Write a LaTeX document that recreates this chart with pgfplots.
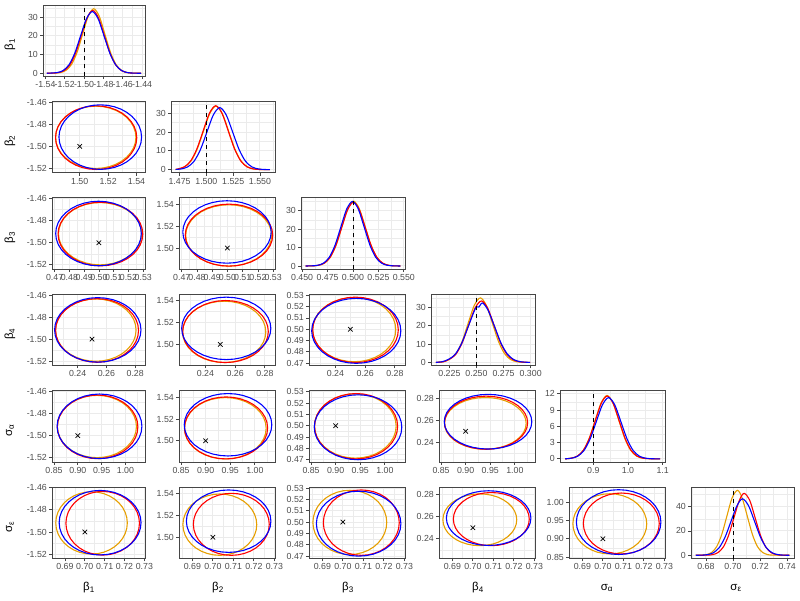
\documentclass[border=0pt]{standalone}
\usepackage{fontspec}
\setmainfont{Liberation Sans}
\usepackage{pgfplots}
\usepackage{pgfplotstable}
\pgfplotsset{compat=1.18}
\definecolor{colO}{RGB}{230,159,0}
\definecolor{colR}{RGB}{255,0,0}
\definecolor{colB}{RGB}{0,0,255}
\definecolor{g20}{RGB}{70,70,70}
\definecolor{g30}{RGB}{77,77,77}
\definecolor{g92}{RGB}{235,235,235}

\pgfplotstableread{
c s
1 0
0.9848 0.1736
0.9397 0.3420
0.8660 0.5
0.7660 0.6428
0.6428 0.7660
0.5 0.8660
0.3420 0.9397
0.1736 0.9848
0 1
-0.1736 0.9848
-0.3420 0.9397
-0.5 0.8660
-0.6428 0.7660
-0.7660 0.6428
-0.8660 0.5
-0.9397 0.3420
-0.9848 0.1736
-1 0
-0.9848 -0.1736
-0.9397 -0.3420
-0.8660 -0.5
-0.7660 -0.6428
-0.6428 -0.7660
-0.5 -0.8660
-0.3420 -0.9397
-0.1736 -0.9848
0 -1
0.1736 -0.9848
0.3420 -0.9397
0.5 -0.8660
0.6428 -0.7660
0.7660 -0.6428
0.8660 -0.5
0.9397 -0.3420
0.9848 -0.1736
1 0
}\unitcircle

% ellipse centres and half-widths (per variable, colour and role)
\newcommand{\setp}[3]{\expandafter\def\csname #1c\endcsname{#2}\expandafter\def\csname #1r\endcsname{#3}}
\setp{yaO}{-1.4918}{0.0282}\setp{yaR}{-1.4921}{0.0288}\setp{yaB}{-1.4916}{0.0292}
\setp{xbO}{1.5113}{0.0283}\setp{xbR}{1.5116}{0.0286}\setp{xbB}{1.5145}{0.0291}
\setp{ybO}{1.5115}{0.0281}\setp{ybR}{1.5118}{0.0284}\setp{ybB}{1.5147}{0.0286}
\setp{xcO}{0.5008}{0.0282}\setp{xcR}{0.5010}{0.0287}\setp{xcB}{0.4997}{0.0290}
\setp{ycO}{0.4997}{0.0284}\setp{ycR}{0.4995}{0.0289}\setp{ycB}{0.4986}{0.0287}
\setp{xdO}{0.2526}{0.0280}\setp{xdR}{0.2535}{0.0288}\setp{xdB}{0.2540}{0.0300}
\setp{ydO}{0.2572}{0.0234}\setp{ydR}{0.2578}{0.0240}\setp{ydB}{0.2587}{0.0247}
\setp{xeO}{0.9400}{0.0830}\setp{xeR}{0.9415}{0.0845}\setp{xeB}{0.9455}{0.0890}
\setp{yeO}{0.9410}{0.0825}\setp{yeR}{0.9420}{0.0835}\setp{yeB}{0.9458}{0.0888}
\setp{xfO}{0.7034}{0.0180}\setp{xfR}{0.7090}{0.0185}\setp{xfB}{0.7077}{0.0206}

\newcommand{\ellip}[3]{\addplot[col#1, line width=1.1pt, line join=round] table[x expr={\csname #2#1c\endcsname+\csname #2#1r\endcsname*\thisrow{c}}, y expr={\csname #3#1c\endcsname+\csname #3#1r\endcsname*\thisrow{s}}] {\unitcircle};}
\newcommand{\three}[2]{\ellip{O}{#1}{#2}\ellip{R}{#1}{#2}\ellip{B}{#1}{#2}}
\newcommand{\truept}[2]{\addplot[black, only marks, mark=x, mark size=3.2pt, mark options={line width=0.7pt}] coordinates {(#1,#2)};}
\newcommand{\truline}[3]{\addplot[black, line width=0.9pt, dash pattern=on 4pt off 4pt] coordinates {(#1,#2) (#1,#3)};}

\pgfplotsset{
  pan/.style={scale only axis, anchor=south west, height=71.5pt,
    axis line style={draw=g20, line width=0.8pt},
    tick pos=left, tick align=outside, major tick length=2.75pt, minor tick length=0pt,
    tick style={g20, line width=0.8pt}, minor tick style={draw=none},
    grid=both, major grid style={g92, line width=1pt}, minor grid style={g92, line width=0.5pt},
    tick label style={font=\fontsize{8.8}{10}\selectfont, text=g30},
    xticklabel style={inner sep=0pt, yshift=-2.2pt},
    yticklabel style={inner sep=0pt, xshift=-2.2pt},
  },
  vxb/.style={xmin=1.4805, xmax=1.546, xtick={1.50,1.52,1.54}, xticklabels={1.50,1.52,1.54}, minor xtick={1.49,1.51,1.53}},
  vxc/.style={xmin=0.4682, xmax=0.5312, xtick={0.47,0.48,0.49,0.50,0.51,0.52,0.53}, xticklabels={0.47,0.48,0.49,0.50,0.51,0.52,0.53}, minor xtick={0.475,0.485,0.495,0.505,0.515,0.525}},
  vxd/.style={xmin=0.2222, xmax=0.2868, xtick={0.24,0.26,0.28}, xticklabels={0.24,0.26,0.28}, minor xtick={0.23,0.25,0.27}},
  vxe/.style={xmin=0.8458, xmax=1.041, xtick={0.85,0.90,0.95,1.00}, xticklabels={0.85,0.90,0.95,1.00}, minor xtick={0.875,0.925,0.975,1.025}},
  vxf/.style={xmin=0.6835, xmax=0.7303, xtick={0.69,0.70,0.71,0.72,0.73}, xticklabels={0.69,0.70,0.71,0.72,0.73}, minor xtick={0.685,0.695,0.705,0.715,0.725}},
  vya/.style={ymin=-1.524, ymax=-1.4593, ytick={-1.52,-1.50,-1.48,-1.46}, yticklabels={-1.52,-1.50,-1.48,-1.46}, minor ytick={-1.51,-1.49,-1.47}},
  vyb/.style={ymin=1.4805, ymax=1.546, ytick={1.50,1.52,1.54}, yticklabels={1.50,1.52,1.54}, minor ytick={1.49,1.51,1.53}},
  vyc/.style={ymin=0.4678, ymax=0.531, ytick={0.47,0.48,0.49,0.50,0.51,0.52,0.53}, yticklabels={0.47,0.48,0.49,0.50,0.51,0.52,0.53}, minor ytick={0.475,0.485,0.495,0.505,0.515,0.525}},
  vyd/.style={ymin=0.2222, ymax=0.2868, ytick={0.24,0.26,0.28}, yticklabels={0.24,0.26,0.28}, minor ytick={0.23,0.25,0.27}},
  vye/.style={ymin=0.846, ymax=1.042, ytick={0.85,0.90,0.95,1.00}, yticklabels={0.85,0.90,0.95,1.00}, minor ytick={0.875,0.925,0.975,1.025}},
  dy30/.style={ytick={0,10,20,30}, yticklabels={0,10,20,30}, minor ytick={5,15,25,35}},
  dO/.style={colO, line width=1.1pt, smooth},
  dR/.style={colR, line width=1.1pt, smooth},
  dB/.style={colB, line width=1.1pt, smooth},
}
\newcommand{\ttl}{\fontsize{11.5}{13}\selectfont}

\begin{document}
\begin{tikzpicture}
% ---------------- row 1 ----------------
\begin{axis}[pan, at={(43pt,523.5pt)}, width=102pt,
  xmin=-1.5425, xmax=-1.437, xtick={-1.54,-1.52,-1.50,-1.48,-1.46,-1.44}, xticklabels={-1.54,-1.52,-1.50,-1.48,-1.46,-1.44}, minor xtick={-1.53,-1.51,-1.49,-1.47,-1.45},
  ymin=-1.74, ymax=36.5, dy30]
\addplot[dO] coordinates {(-1.5386,0) (-1.53025,0.08) (-1.5245,0.38) (-1.51875,1.51) (-1.513,4.67) (-1.50725,11.20) (-1.5015,20.92) (-1.49575,30.45) (-1.49,34.5) (-1.48425,30.45) (-1.4785,20.92) (-1.47275,11.20) (-1.467,4.67) (-1.46125,1.51) (-1.4555,0.38) (-1.44975,0.08) (-1.441,0)};
\addplot[dR] coordinates {(-1.5386,0) (-1.5323,0.07) (-1.5264,0.37) (-1.5205,1.48) (-1.5146,4.55) (-1.5087,10.91) (-1.5028,20.38) (-1.4969,29.65) (-1.491,33.6) (-1.4851,29.65) (-1.4792,20.38) (-1.4733,10.91) (-1.4674,4.55) (-1.4615,1.48) (-1.4556,0.37) (-1.4497,0.07) (-1.441,0)};
\addplot[dB] coordinates {(-1.5386,0) (-1.5278,0.37) (-1.52175,1.45) (-1.5157,4.46) (-1.50965,10.72) (-1.5036,20.01) (-1.49755,29.12) (-1.4915,33.0) (-1.48545,29.12) (-1.4794,20.01) (-1.47335,10.72) (-1.4673,4.46) (-1.46125,1.45) (-1.4552,0.37) (-1.44915,0.07) (-1.441,0)};
\truline{-1.5}{-1.74}{36.5}
\end{axis}
% ---------------- row 2 ----------------
\begin{axis}[pan, at={(52pt,427.1pt)}, width=93pt, vxb, vya]
\three{xb}{ya}\truept{1.5}{-1.5}
\end{axis}
\begin{axis}[pan, at={(171pt,427.1pt)}, width=104pt,
  xmin=1.467, xmax=1.564, xtick={1.475,1.5,1.525,1.55}, xticklabels={1.475,1.500,1.525,1.550}, minor xtick={1.4875,1.5125,1.5375,1.5625},
  ymin=-1.73, ymax=36.3, dy30]
\addplot[dO] coordinates {(1.4714,0.1) (1.4739,0.38) (1.47975,1.48) (1.4856,4.57) (1.49145,10.97) (1.4973,20.5) (1.50315,29.83) (1.509,33.8) (1.51485,29.83) (1.5207,20.5) (1.52655,10.97) (1.5324,4.57) (1.53825,1.48) (1.5441,0.38) (1.54995,0.07) (1.5593,0)};
\addplot[dR] coordinates {(1.4714,0.1) (1.4736,0.38) (1.47945,1.49) (1.4853,4.60) (1.49115,11.04) (1.497,20.62) (1.50285,30.0) (1.5087,34.0) (1.51455,30.0) (1.5204,20.62) (1.52625,11.04) (1.5321,4.60) (1.53795,1.49) (1.5438,0.38) (1.54965,0.07) (1.5593,0)};
\addplot[dB] coordinates {(1.4714,0.1) (1.4765,0.37) (1.4825,1.45) (1.4885,4.46) (1.4945,10.72) (1.5005,20.01) (1.5065,29.12) (1.5125,33.0) (1.5185,29.12) (1.5245,20.01) (1.5305,10.72) (1.5365,4.46) (1.5425,1.45) (1.5485,0.37) (1.5545,0.07) (1.5593,0)};
\truline{1.5}{-1.73}{36.3}
\end{axis}
% ---------------- row 3 ----------------
\begin{axis}[pan, at={(52pt,330.7pt)}, width=93pt, vxc, vya]
\three{xc}{ya}\truept{0.5}{-1.5}
\end{axis}
\begin{axis}[pan, at={(179pt,330.7pt)}, width=96pt, vxc, vyb]
\three{xc}{yb}\truept{0.5}{1.5}
\end{axis}
\begin{axis}[pan, at={(301pt,330.7pt)}, width=104pt,
  xmin=0.4489, xmax=0.5511, xtick={0.45,0.475,0.5,0.525,0.55}, xticklabels={0.450,0.475,0.500,0.525,0.550}, minor xtick={0.4625,0.4875,0.5125,0.5375},
  ymin=-1.8, ymax=37, dy30]
\addplot[dO] coordinates {(0.4535,0) (0.4606,0.08) (0.4663,0.39) (0.472,1.55) (0.4777,4.76) (0.4834,11.43) (0.4891,21.35) (0.4948,31.06) (0.5005,35.2) (0.5062,31.06) (0.5119,21.35) (0.5176,11.43) (0.5233,4.76) (0.529,1.55) (0.5347,0.39) (0.5404,0.08) (0.5465,0)};
\addplot[dR] coordinates {(0.4535,0) (0.46025,0.08) (0.466,0.38) (0.47175,1.52) (0.4775,4.68) (0.48325,11.23) (0.489,20.98) (0.49475,30.53) (0.5005,34.6) (0.50625,30.53) (0.512,20.98) (0.51775,11.23) (0.5235,4.68) (0.52925,1.52) (0.535,0.38) (0.54075,0.08) (0.5465,0)};
\addplot[dB] coordinates {(0.4535,0) (0.4596,0.08) (0.4653,0.39) (0.471,1.54) (0.4767,4.74) (0.4824,11.36) (0.4881,21.23) (0.4938,30.89) (0.4995,35.0) (0.5052,30.89) (0.5109,21.23) (0.5166,11.36) (0.5223,4.74) (0.528,1.54) (0.5337,0.39) (0.5394,0.08) (0.5465,0)};
\truline{0.5}{-1.8}{37}
\end{axis}
% ---------------- row 4 ----------------
\begin{axis}[pan, at={(52pt,234.3pt)}, width=93pt, vxd, vya]
\three{xd}{ya}\truept{0.25}{-1.5}
\end{axis}
\begin{axis}[pan, at={(179pt,234.3pt)}, width=96pt, vxd, vyb]
\three{xd}{yb}\truept{0.25}{1.5}
\end{axis}
\begin{axis}[pan, at={(309pt,234.3pt)}, width=96pt, vxd, vyc]
\three{xd}{yc}\truept{0.25}{0.5}
\end{axis}
\begin{axis}[pan, at={(431pt,234.3pt)}, width=104pt,
  xmin=0.208, xmax=0.304, xtick={0.225,0.25,0.275,0.3}, xticklabels={0.225,0.250,0.275,0.300}, minor xtick={0.2125,0.2375,0.2625,0.2875},
  ymin=-1.8, ymax=37.3, dy30]
\addplot[dO] coordinates {(0.2125,0) (0.2199,0.39) (0.2255,1.9) (0.2311,4.78) (0.2367,11.46) (0.2423,21.41) (0.2479,31.15) (0.2535,35.3) (0.2591,31.15) (0.2647,21.41) (0.2703,11.46) (0.2759,4.78) (0.2815,1.55) (0.2871,0.39) (0.2927,0.08) (0.2995,0)};
\addplot[dR] coordinates {(0.2125,0) (0.2194,0.37) (0.22525,1.8) (0.2311,4.55) (0.23695,10.91) (0.2428,20.38) (0.24865,29.65) (0.2545,33.6) (0.26035,29.65) (0.2662,20.38) (0.27205,10.91) (0.2779,4.55) (0.28375,1.48) (0.2896,0.37) (0.29545,0.07) (0.2995,0)};
\addplot[dB] coordinates {(0.2125,0.05) (0.2182,0.36) (0.22425,1.7) (0.2303,4.40) (0.23635,10.55) (0.2424,19.71) (0.24845,28.8) (0.2505,30.4) (0.2522,30.3) (0.2555,32.5) (0.26055,28.68) (0.2666,19.71) (0.27265,10.55) (0.2787,4.40) (0.28475,1.43) (0.2908,0.36) (0.29685,0.07) (0.2995,0)};
\truline{0.25}{-1.8}{37.3}
\end{axis}
% ---------------- row 5 ----------------
\begin{axis}[pan, at={(52pt,137.9pt)}, width=93pt, vxe, vya]
\three{xe}{ya}\truept{0.9}{-1.5}
\end{axis}
\begin{axis}[pan, at={(179pt,137.9pt)}, width=96pt, vxe, vyb]
\three{xe}{yb}\truept{0.9}{1.5}
\end{axis}
\begin{axis}[pan, at={(309pt,137.9pt)}, width=96pt, vxe, vyc]
\three{xe}{yc}\truept{0.9}{0.5}
\end{axis}
\begin{axis}[pan, at={(439pt,137.9pt)}, width=96pt, vxe, vyd]
\three{xe}{yd}\truept{0.9}{0.25}
\end{axis}
\begin{axis}[pan, at={(560pt,137.9pt)}, width=105pt,
  xmin=0.804, xmax=1.1066, xtick={0.9,1.0,1.1}, xticklabels={0.9,1.0,1.1}, minor xtick={0.85,0.95,1.05},
  ymin=-0.6, ymax=12.6, ytick={0,3,6,9,12}, yticklabels={0,3,6,9,12}, minor ytick={1.5,4.5,7.5,10.5}]
\addplot[dO] coordinates {(0.8185,0) (0.8372,0.13) (0.85425,0.51) (0.8713,1.58) (0.88835,3.80) (0.9054,7.10) (0.92245,10.33) (0.9395,11.7) (0.95655,10.33) (0.9736,7.10) (0.99065,3.80) (1.0077,1.58) (1.02475,0.51) (1.0418,0.13) (1.05885,0.03) (1.0925,0)};
\addplot[dR] coordinates {(0.8185,0) (0.8368,0.13) (0.854,0.51) (0.8712,1.57) (0.8884,3.77) (0.9056,7.04) (0.9228,10.24) (0.940,11.6) (0.9572,10.24) (0.9744,7.04) (0.9916,3.77) (1.0088,1.57) (1.026,0.51) (1.0432,0.13) (1.0604,0.03) (1.0925,0)};
\addplot[dB] coordinates {(0.8185,0) (0.8375,0.13) (0.85525,0.50) (0.873,1.53) (0.89075,3.67) (0.9085,6.85) (0.92625,9.97) (0.944,11.3) (0.96175,9.97) (0.9795,6.85) (0.99725,3.67) (1.015,1.53) (1.03275,0.50) (1.0505,0.13) (1.06825,0.02) (1.0925,0)};
\truline{0.9}{-0.6}{12.6}
\end{axis}
% ---------------- row 6 ----------------
\begin{axis}[pan, at={(52pt,41.5pt)}, width=93pt, vxf, vya]
\three{xf}{ya}\truept{0.7}{-1.5}
\end{axis}
\begin{axis}[pan, at={(179pt,41.5pt)}, width=96pt, vxf, vyb]
\three{xf}{yb}\truept{0.7}{1.5}
\end{axis}
\begin{axis}[pan, at={(309pt,41.5pt)}, width=96pt, vxf, vyc]
\three{xf}{yc}\truept{0.7}{0.5}
\end{axis}
\begin{axis}[pan, at={(439pt,41.5pt)}, width=96pt, vxf, vyd]
\three{xf}{yd}\truept{0.7}{0.25}
\end{axis}
\begin{axis}[pan, at={(569pt,41.5pt)}, width=96pt, vxf, vye]
\three{xf}{ye}\truept{0.7}{0.9}
\end{axis}
\begin{axis}[pan, at={(691pt,41.5pt)}, width=103pt,
  xmin=0.669, xmax=0.745, xtick={0.68,0.70,0.72,0.74}, xticklabels={0.68,0.70,0.72,0.74}, minor xtick={0.67,0.69,0.71,0.73},
  ymin=-2.67, ymax=56.2, ytick={0,20,40}, yticklabels={0,20,40}, minor ytick={10,30,50}]
\addplot[dO] coordinates {(0.6725,0) (0.67675,0.12) (0.6805,0.59) (0.68425,2.34) (0.688,7.21) (0.69175,17.31) (0.6955,32.33) (0.69925,47.04) (0.7033,53.5) (0.70675,47.04) (0.7105,32.33) (0.71425,17.31) (0.718,7.21) (0.72175,2.34) (0.7255,0.59) (0.72925,0.12) (0.7415,0)};
\addplot[dR] coordinates {(0.6725,0) (0.6812,0.11) (0.6851,0.57) (0.689,2.24) (0.6929,6.90) (0.6968,16.56) (0.7007,30.93) (0.7046,45.01) (0.7082,51.0) (0.7124,45.01) (0.7163,30.93) (0.7202,16.56) (0.7241,6.90) (0.728,2.24) (0.7319,0.57) (0.7358,0.11) (0.7415,0)};
\addplot[dB] coordinates {(0.6725,0) (0.67675,0.10) (0.6811,0.51) (0.68545,2.02) (0.6898,6.22) (0.69415,14.94) (0.6985,27.9) (0.70285,40.6) (0.7070,46.5) (0.71155,40.6) (0.7159,27.9) (0.72025,14.94) (0.7246,6.22) (0.72895,2.02) (0.7333,0.51) (0.73765,0.10) (0.7415,0)};
\truline{0.7}{-2.67}{56.2}
\end{axis}
% ---------------- titles ----------------
\node[rotate=90, font=\ttl] at (10pt,555.5pt) {β\textsubscript{1}};
\node[rotate=90, font=\ttl] at (10pt,459pt) {β\textsubscript{2}};
\node[rotate=90, font=\ttl] at (10pt,362.5pt) {β\textsubscript{3}};
\node[rotate=90, font=\ttl] at (10pt,266pt) {β\textsubscript{4}};
\node[rotate=90, font=\ttl] at (10pt,169.5pt) {σ\textsubscript{α}};
\node[rotate=90, font=\ttl] at (10pt,73pt) {σ\textsubscript{ε}};
\node[font=\ttl] at (89pt,12pt) {β\textsubscript{1}};
\node[font=\ttl] at (218pt,12pt) {β\textsubscript{2}};
\node[font=\ttl] at (348pt,12pt) {β\textsubscript{3}};
\node[font=\ttl] at (478pt,12pt) {β\textsubscript{4}};
\node[font=\ttl] at (607pt,12pt) {σ\textsubscript{α}};
\node[font=\ttl] at (736pt,12pt) {σ\textsubscript{ε}};
\pgfresetboundingbox
\useasboundingbox (0,0) rectangle (800pt,600pt);
\end{tikzpicture}
\end{document}
